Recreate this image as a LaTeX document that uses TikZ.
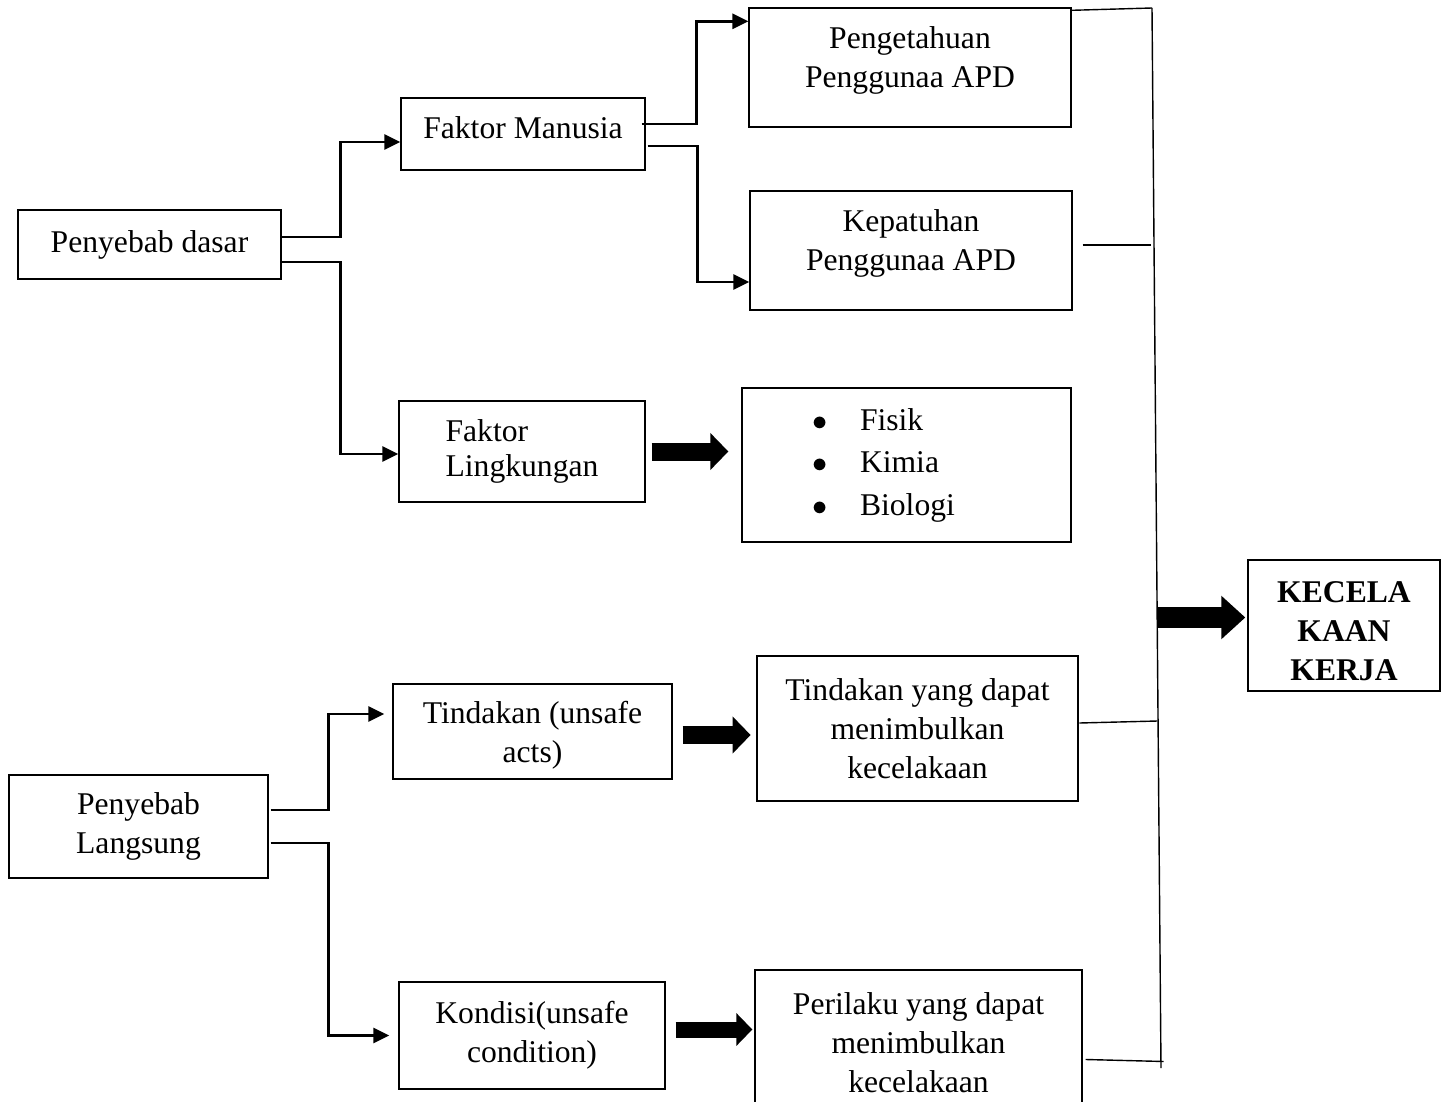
\documentclass[tikz,border=0pt]{standalone}
\usepackage{fontspec}
\setmainfont{Liberation Serif}
\usetikzlibrary{arrows.meta}
\newcommand{\bigdot}{\makebox[0.96cm][l]{$\bullet$}}
\begin{document}
\begin{tikzpicture}[x=0.02cm, y=-0.02cm,
    every node/.style={font=\fontsize{18}{22.2}\selectfont},
    box/.style={draw, line width=0.8pt, align=center, inner sep=0pt},
    elbow/.style={line width=1.6pt, -{Triangle[length=0.32cm, width=0.3cm]}},
    fat/.style={line width=0.36cm, -{Triangle[length=0.36cm, width=0.72cm]}},
    thin/.style={line width=0.8pt}]
  \useasboundingbox (0,0) rectangle (1441,1102);
  \node[box, minimum width=5.26cm, minimum height=1.38cm] (dasar) at (149.5,244.5) {Penyebab dasar};
  \node[box, text depth=7pt, minimum width=4.88cm, minimum height=1.44cm] (manusia) at (523,134) {Faktor Manusia};
  \node[box, text depth=12pt, minimum width=6.44cm, minimum height=2.38cm] (pengetahuan) at (910,67.5) {Pengetahuan\\Penggunaa APD};
  \node[box, text depth=12pt, minimum width=6.44cm, minimum height=2.38cm] (kepatuhan) at (911,250.5) {Kepatuhan\\Penggunaa APD};
  \node[box, align=left, minimum width=4.92cm, minimum height=2.02cm] (lingkungan) at (522,451.5) {Faktor\\[-0.08cm]Lingkungan};
  \node[box, align=left, text width=3.78cm, minimum width=6.58cm, minimum height=3.08cm] (fisik) at (906.5,465)
    {\bigdot Fisik\\[0.07cm]\bigdot Kimia\\[0.07cm]\bigdot Biologi};
  \node[box, minimum width=3.84cm, minimum height=2.62cm, font=\fontsize{18}{22.2}\selectfont\bfseries] (kecelakaan) at (1344,625.5) {\rule{0pt}{18pt}KECELA\\KAAN\\KERJA};
  \node[box, minimum width=5.18cm, minimum height=2.06cm] (langsung) at (138.5,826.5) {Penyebab\\Langsung};
  \node[box, text depth=0pt, minimum width=5.58cm, minimum height=1.90cm] (unsafe) at (532.5,731.5) {Tindakan (unsafe\\acts)};
  \node[box, line width=1.6pt, minimum width=6.42cm, minimum height=2.90cm] (tindakanyang) at (917.5,728.5) {Tindakan yang dapat\\menimbulkan\\kecelakaan};
  \node[box, minimum width=5.32cm, minimum height=2.14cm] (kondisi) at (532,1035.5) {Kondisi(unsafe\\condition)};
  \node[box, minimum width=6.54cm, minimum height=2.90cm] (perilaku) at (918.5,1042.5) {Perilaku yang dapat\\menimbulkan\\kecelakaan};
  \coordinate (bustop) at (1152,8);
  \coordinate (busbot) at (1161,1068);
  \coordinate (busmid) at (1157,617.5);
  \draw[elbow] ([yshift=0.15cm]dasar.east) -- ++(59,0) |- ([yshift=-0.16cm]manusia.west);
  \draw[elbow] ([yshift=-0.35cm]dasar.east) -- ++(59,0) |- ([yshift=-0.05cm]lingkungan.west);
  \draw[elbow] ([xshift=-0.08cm,yshift=0.2cm]manusia.east) -- ++(55,0) |- ([yshift=-0.28cm]pengetahuan.north west);
  \draw[elbow] ([xshift=0.04cm,yshift=-0.24cm]manusia.east) -- ++(50,0) |- ([yshift=-0.63cm]kepatuhan.west);
  \draw[elbow, shorten >=0.16cm] ([xshift=0.04cm,yshift=0.33cm]langsung.east) -- ++(58,0) |- ([yshift=0.35cm]unsafe.west);
  \draw[elbow, shorten >=0.18cm] ([xshift=0.04cm,yshift=-0.33cm]langsung.east) -- ++(58,0) |- (kondisi.west);
  \draw[fat, shorten <=0.12cm, shorten >=0.26cm] (lingkungan.east) -- (lingkungan.east -| fisik.west);
  \draw[fat, shorten <=0.2cm, shorten >=0.1cm] ([yshift=-0.07cm]unsafe.east) -- ([yshift=-0.07cm]unsafe.east -| tindakanyang.west);
  \draw[fat, line width=0.32cm, -{Triangle[length=0.32cm, width=0.64cm]}, shorten <=0.2cm, shorten >=0.04cm] ([yshift=0.12cm]kondisi.east) -- ([yshift=0.12cm]kondisi.east -| perilaku.west);
  \draw[fat, line width=0.42cm, -{Triangle[length=0.48cm, width=0.84cm]}, shorten >=0.04cm] (busmid) -- (busmid -| kecelakaan.west);
  \draw[thin] (bustop) -- (busbot);
  \draw[thin] ([yshift=-0.06cm]pengetahuan.north east) -- (bustop);
  \draw[thin] ([xshift=0.2cm,yshift=0.11cm]kepatuhan.east) -- ++(68,0);
  \draw[thin] ([yshift=0.11cm]tindakanyang.east) -- ++(78,-2);
  \draw[thin] ([xshift=0.06cm,yshift=-0.34cm]perilaku.east) -- ++(78,2);
\end{tikzpicture}
\end{document}
